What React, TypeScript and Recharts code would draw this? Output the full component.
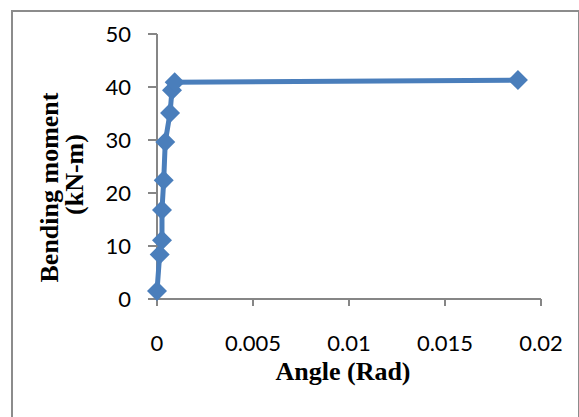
import React from "react";
import { ScatterChart, Scatter, XAxis, YAxis } from "recharts";

// moment–rotation readings
const angles = [0, 0.00014, 0.00026, 0.00026, 0.00035, 0.00043, 0.00068, 0.00078, 0.00092, 0.0188];
const moments = [1.5, 8.4, 11.1, 16.8, 22.4, 29.6, 35.1, 39.4, 40.9, 41.3];
const xTicks = [0, 0.005, 0.01, 0.015, 0.02];
const yTicks = [0, 10, 20, 30, 40, 50];

const data = angles.map((a, i) => ({ angle: a, moment: moments[i] }));

const BLUE = "#4a7ebb";
const AXIS = "#868686";

const Diamond = (props: any) => {
	const { cx, cy } = props;
	const r = 10;
	return (
		<polygon
			points={`${cx},${cy - r} ${cx + r},${cy} ${cx},${cy + r} ${cx - r},${cy}`}
			fill={BLUE}
		/>
	);
};

const YLabel = (props: any) => {
	const { viewBox } = props;
	const cy = viewBox.y + viewBox.height / 2;
	const style = { fontFamily: "Liberation Serif", fontWeight: "bold", fontSize: 26 };
	const y1 = cy + 21;
	const y2 = cy + 8;
	return (
		<g>
			<text x={58} y={y1} transform={`rotate(-90 58 ${y1})`} textAnchor="middle" {...style}>
				Bending moment
			</text>
			<text x={83} y={y2} transform={`rotate(-90 83 ${y2})`} textAnchor="middle" {...style}>
				(kN-m)
			</text>
		</g>
	);
};

const XLabel = () => (
	<text
		x={343}
		y={380}
		textAnchor="middle"
		fontFamily="Liberation Serif"
		fontWeight="bold"
		fontSize={26}
	>
		Angle (Rad)
	</text>
);

const App = () => {
	return (
		<div style={{ position: "relative", width: 579, height: 417, overflow: "hidden", background: "#fff" }}>
			<style>{"body{margin:0;overflow:hidden}"}</style>
			<div
				style={{
					position: "absolute",
					left: 11,
					top: 10,
					width: 565,
					height: 430,
					border: "2px solid #8c8c8c",
				}}
			/>
			<ScatterChart
				width={579}
				height={417}
				margin={{ top: 34, right: 38, left: 0, bottom: 0 }}
				style={{ position: "absolute", left: 0, top: 0 }}
			>
				<XAxis
					type="number"
					dataKey="angle"
					domain={[0, 0.02]}
					ticks={xTicks}
					height={118}
					tickSize={7}
					tickMargin={29}
					axisLine={{ stroke: AXIS, strokeWidth: 2 }}
					tickLine={{ stroke: AXIS, strokeWidth: 2 }}
					tick={{ fill: "#000", fontFamily: "Lato", fontSize: 22 }}
					label={<XLabel />}
				/>
				<YAxis
					type="number"
					dataKey="moment"
					domain={[0, 50]}
					ticks={yTicks}
					width={157}
					tickSize={9}
					tickMargin={17}
					axisLine={{ stroke: AXIS, strokeWidth: 2 }}
					tickLine={{ stroke: AXIS, strokeWidth: 2 }}
					tick={{ fill: "#000", fontFamily: "Lato", fontSize: 22 }}
					label={{ content: <YLabel /> }}
				/>
				<Scatter
					data={data}
					line={{ stroke: BLUE, strokeWidth: 5 }}
					shape={<Diamond />}
					isAnimationActive={false}
				/>
			</ScatterChart>
		</div>
	);
};

export default App;
